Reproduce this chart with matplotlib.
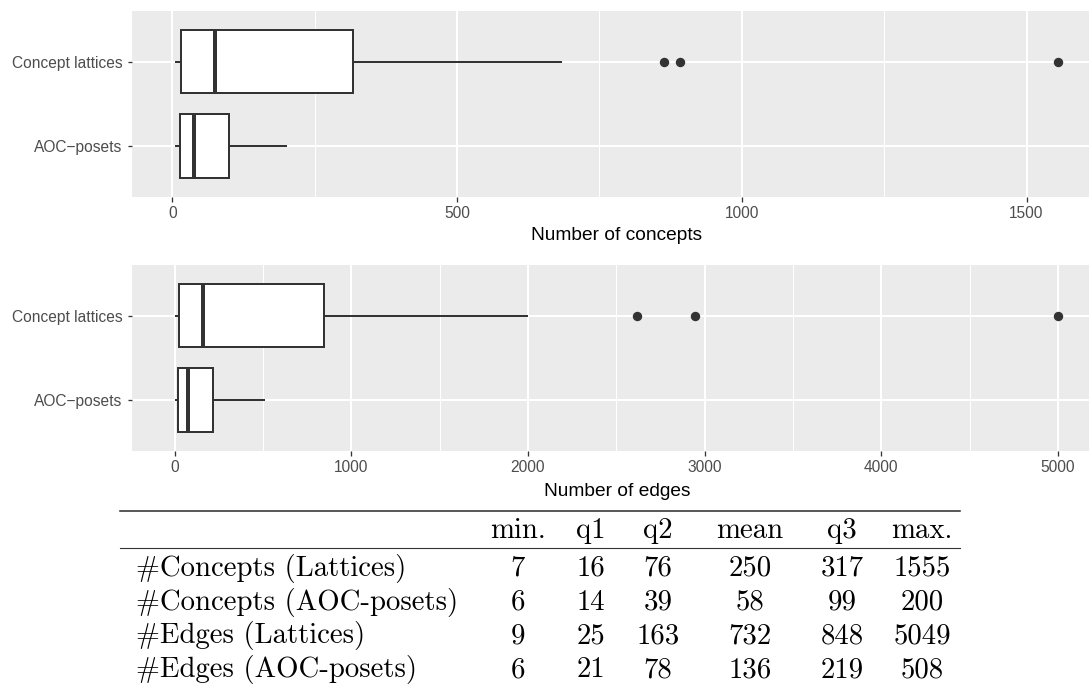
import matplotlib
matplotlib.use('Agg')
import matplotlib.pyplot as plt
from matplotlib.lines import Line2D
from matplotlib.ticker import MultipleLocator, FixedLocator

plt.rcParams['font.family'] = ['Liberation Sans', 'DejaVu Sans']

# ---------------- data ----------------
categories = ['AOC\u2212posets', 'Concept lattices']

# box statistics: lower whisker, q1, median, q3, upper whisker
concepts_aoc = [6, 14, 39, 99, 200]
concepts_lat = [7, 16, 76, 317, 682]
concepts_aoc_out = []
concepts_lat_out = [864, 891, 1555]

edges_aoc = [6, 21, 78, 219, 508]
edges_lat = [9, 25, 163, 848, 1995]
edges_aoc_out = []
edges_lat_out = [2617, 2946, 5000]

concepts_ticks = [0, 500, 1000, 1500]
edges_ticks = [0, 1000, 2000, 3000, 4000, 5000]

table_cols = ['min.', 'q1', 'q2', 'mean', 'q3', 'max.']
table_rows = ['#Concepts (Lattices)', '#Concepts (AOC-posets)',
              '#Edges (Lattices)', '#Edges (AOC-posets)']
table_vals = [[7, 16, 76, 250, 317, 1555],
              [6, 14, 39, 58, 99, 200],
              [9, 25, 163, 732, 848, 5049],
              [6, 21, 78, 136, 219, 508]]

# ---------------- figure ----------------
W, H = 1089, 688
fig = plt.figure(figsize=(W / 100, H / 100), dpi=100)

DARK = '#333333'
PX = 72 / 100  # points per pixel


def stats(v, out):
    return dict(whislo=v[0], q1=v[1], med=v[2], q3=v[3], whishi=v[4], fliers=out)


def panel(rect_px, s_aoc, o_aoc, s_lat, o_lat, ticks, minor, title, labelpad):
    l, t, w, h = rect_px
    ax = fig.add_axes([l / W, 1 - (t + h) / H, w / W, h / H])
    ax.set_facecolor('#EBEBEB')
    ax.bxp([stats(s_aoc, o_aoc), stats(s_lat, o_lat)], positions=[1, 2],
           orientation='horizontal', widths=0.75, patch_artist=True,
           showcaps=False,
           boxprops=dict(facecolor='white', edgecolor=DARK, linewidth=2 * PX),
           medianprops=dict(color=DARK, linewidth=4 * PX, solid_capstyle='butt'),
           whiskerprops=dict(color=DARK, linewidth=2 * PX),
           flierprops=dict(marker='o', markerfacecolor=DARK, markeredgecolor=DARK,
                           markersize=8 * PX, linestyle='none'))
    allv = list(s_aoc) + list(o_aoc) + list(s_lat) + list(o_lat)
    lo, hi = min(allv), max(allv)
    pad = 0.05 * (hi - lo)
    ax.set_xlim(lo - pad, hi + pad)
    ax.set_ylim(0.4, 2.6)
    ax.xaxis.set_major_locator(FixedLocator(ticks))
    ax.xaxis.set_minor_locator(MultipleLocator(minor))
    ax.set_yticks([1, 2])
    ax.set_yticklabels(categories)
    ax.grid(which='major', color='white', linewidth=2 * PX)
    ax.grid(which='minor', axis='x', color='white', linewidth=1 * PX)
    ax.set_axisbelow(True)
    for sp in ax.spines.values():
        sp.set_visible(False)
    ax.tick_params(which='major', length=4.5 * PX, width=1.3 * PX, color=DARK,
                   labelcolor='#4D4D4D', labelsize=11.2, pad=3.5)
    ax.tick_params(which='minor', length=0)
    ax.set_xlabel(title, fontsize=13.8, color='black', labelpad=labelpad)
    return ax


panel((131.5, 11, 970.5, 185.7), concepts_aoc, concepts_aoc_out,
      concepts_lat, concepts_lat_out, concepts_ticks, 250, 'Number of concepts', 4)
panel((131.5, 265, 970.5, 185.7), edges_aoc, edges_aoc_out,
      edges_lat, edges_lat_out, edges_ticks, 500, 'Number of edges', 6)

# ---------------- table ----------------
def fx(x):
    return x / W


def fy(y):
    return 1 - y / H


fig.add_artist(Line2D([fx(120), fx(960)], [fy(510.7)] * 2, color='#333333', linewidth=1.6 * PX))
fig.add_artist(Line2D([fx(120), fx(960)], [fy(548)] * 2, color='#333333', linewidth=1.1 * PX))

col_x = [518, 591, 658, 750, 842, 922]
TFS = 20.7
for cx, c in zip(col_x, table_cols):
    fig.text(fx(cx), fy(538), c, ha='center', va='baseline',
             fontfamily='cmr10', fontsize=TFS, color='black')
row_y = [576, 609.7, 643.3, 677]
for ry, name, vals in zip(row_y, table_rows, table_vals):
    fig.text(fx(136.5), fy(ry), name, ha='left', va='baseline',
             fontfamily='cmr10', fontsize=TFS, color='black')
    for cx, v in zip(col_x, vals):
        fig.text(fx(cx), fy(ry), str(v), ha='center', va='baseline',
                 fontfamily='cmr10', fontsize=TFS, color='black')

fig.savefig('out.png', dpi=100)
